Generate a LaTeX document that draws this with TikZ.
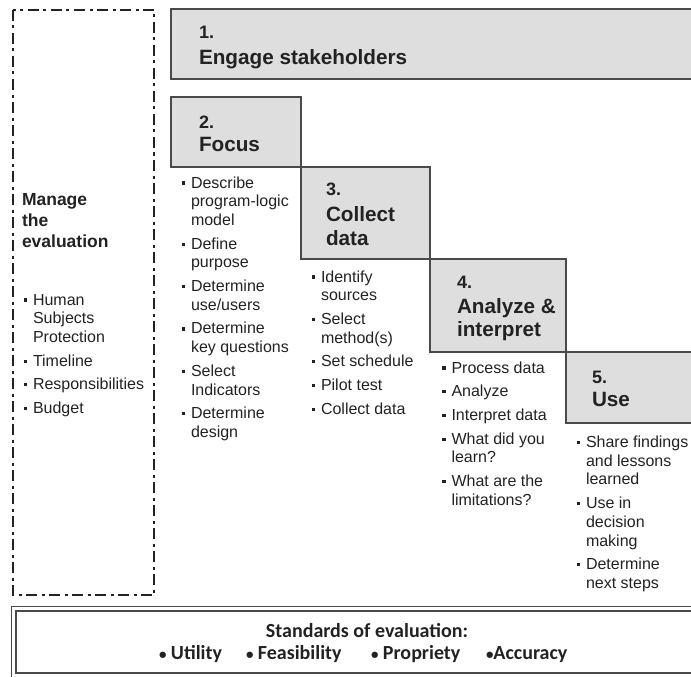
\documentclass[tikz,border=0pt]{standalone}
\usepackage{fontspec}
\setmainfont{Liberation Sans}
\newfontfamily\standardsfont{Carlito}

\definecolor{stepfill}{HTML}{DEDEDE}
\definecolor{stepedge}{HTML}{4A4A4A}
\definecolor{ink}{HTML}{222222}
\definecolor{dashink}{HTML}{222222}

% list helpers: a bulleted first line, indented continuation lines, extra gap between items
\newcommand\ListBullet[1]{\hbox{\makebox[9.5pt][l]{\raisebox{3.4pt}{\rule{3.8pt}{3.2pt}}}#1}}
\newcommand\ListLine[1]{\hbox{\hspace*{9.5pt}#1}}
\newcommand\ItemGap{\vskip 5pt}
% a stack of lines with a fixed baseline distance; its baseline is the first line's
\newcommand\LineStack[2]{\vtop{\baselineskip=#1\lineskiplimit=-100pt\lineskip=0pt #2}}
\newcommand\numfont{\bfseries\fontsize{18}{20}\selectfont}
\newcommand\titlefont{\bfseries\fontsize{20.7}{24}\selectfont}
\newcommand\stdbullet{{\fontsize{15}{15}\selectfont•}}

\tikzset{
  stepbox/.style={draw=stepedge, fill=stepfill, line width=2pt},
  txt/.style={anchor=base west, inner sep=0pt, outer sep=0pt, text=ink,
              font=\fontsize{16}{18}\selectfont},
  stdtxt/.style={inner sep=0pt, outer sep=0pt, text=ink,
              font=\standardsfont\bfseries\fontsize{20}{22}\selectfont},
  managebox/.style={draw=dashink, line width=2pt,
              dash pattern=on 11pt off 4.5pt on 3pt off 4.5pt},
  stdframe/.style={draw=stepedge, line width=1.5pt, double=white, double distance=3pt}
}

\begin{document}
\begin{tikzpicture}[x=1pt,y=-1pt]
\useasboundingbox (0,0) rectangle (691,677);
\clip (0,0) rectangle (691,677);

% staircase of steps
\draw[stepbox] (171,9.5) rectangle (705,79);
\draw[stepbox] (171,97) rectangle (301,167);
\draw[stepbox] (301,167) rectangle (430,259);
\draw[stepbox] (430,259) rectangle (566,352);
\draw[stepbox] (566,352) rectangle (705,423);

% management column
\draw[managebox] (13,10) rectangle (154,595);

% standards frame
\draw[stdframe] (13.5,608.5) rectangle (710,675.25);

% step headings
\node[txt] (h1) at (199,39) {\LineStack{23.5pt}{\hbox{\numfont 1.}\vskip2.5pt\hbox{\titlefont Engage stakeholders}}};
\node[txt] (h2) at (199,128.3) {\LineStack{23.5pt}{\hbox{\numfont 2.}\hbox{\titlefont Focus}}};
\node[txt] (h3) at (326,195) {\LineStack{23.5pt}{\hbox{\numfont 3.}\vskip3pt\hbox{\titlefont Collect}\hbox{\titlefont data}}};
\node[txt] (h4) at (457,288.3) {\LineStack{23.5pt}{\hbox{\numfont 4.}\vskip1.5pt\hbox{\titlefont Analyze \&}\hbox{\titlefont interpret}}};
\node[txt] (h5) at (592,383.3) {\LineStack{23.5pt}{\hbox{\numfont 5.}\hbox{\titlefont Use}}};

% management heading and list
\node[txt] (mh) at (22,205) {\LineStack{21pt}{%
  \hbox{\bfseries\fontsize{17.5}{20}\selectfont Manage}%
  \hbox{\bfseries\fontsize{17.5}{20}\selectfont the}%
  \hbox{\bfseries\fontsize{17.5}{20}\selectfont evaluation}}};
\node[txt] (ml) at (23.5,305) {\LineStack{18.7pt}{%
  \ListBullet{Human}\ListLine{Subjects}\ListLine{Protection}\ItemGap
  \ListBullet{Timeline}\ItemGap
  \ListBullet{Responsibilities}\ItemGap
  \ListBullet{Budget}}};

% step lists
\node[txt] (l2) at (181.5,188) {\LineStack{18.7pt}{%
  \ListBullet{Describe}\ListLine{program-logic}\ListLine{model}\ItemGap
  \ListBullet{Define}\ListLine{purpose}\ItemGap
  \ListBullet{Determine}\ListLine{use/users}\ItemGap
  \ListBullet{Determine}\ListLine{key questions}\ItemGap
  \ListBullet{Select}\ListLine{Indicators}\ItemGap
  \ListBullet{Determine}\ListLine{design}}};
\node[txt] (l3) at (311.5,282) {\LineStack{18.7pt}{%
  \ListBullet{Identify}\ListLine{sources}\ItemGap
  \ListBullet{Select}\ListLine{method(s)}\ItemGap
  \ListBullet{Set schedule}\ItemGap
  \ListBullet{Pilot test}\ItemGap
  \ListBullet{Collect data}}};
\node[txt] (l4) at (442,373) {\LineStack{18.7pt}{%
  \ListBullet{Process data}\ItemGap
  \ListBullet{Analyze}\ItemGap
  \ListBullet{Interpret data}\ItemGap
  \ListBullet{What did you}\ListLine{learn?}\ItemGap
  \ListBullet{What are the}\ListLine{limitations?}}};
\node[txt] (l5) at (576.5,447.5) {\LineStack{18.7pt}{%
  \ListBullet{Share findings}\ListLine{and lessons}\ListLine{learned}\ItemGap
  \ListBullet{Use in}\ListLine{decision}\ListLine{making}\ItemGap
  \ListBullet{Determine}\ListLine{next steps}}};

% standards of evaluation
\node[stdtxt, anchor=base] (st) at (367,637) {Standards of evaluation:};
\node[stdtxt, anchor=base west] (su) at (159,659) {\stdbullet\ Utility};
\node[stdtxt, anchor=base west] (sf) at (246,659) {\stdbullet\ Feasibility};
\node[stdtxt, anchor=base west] (sp) at (371,659) {\stdbullet\ Propriety};
\node[stdtxt, anchor=base west] (sa) at (486,659) {\stdbullet Accuracy};
\end{tikzpicture}
\end{document}
